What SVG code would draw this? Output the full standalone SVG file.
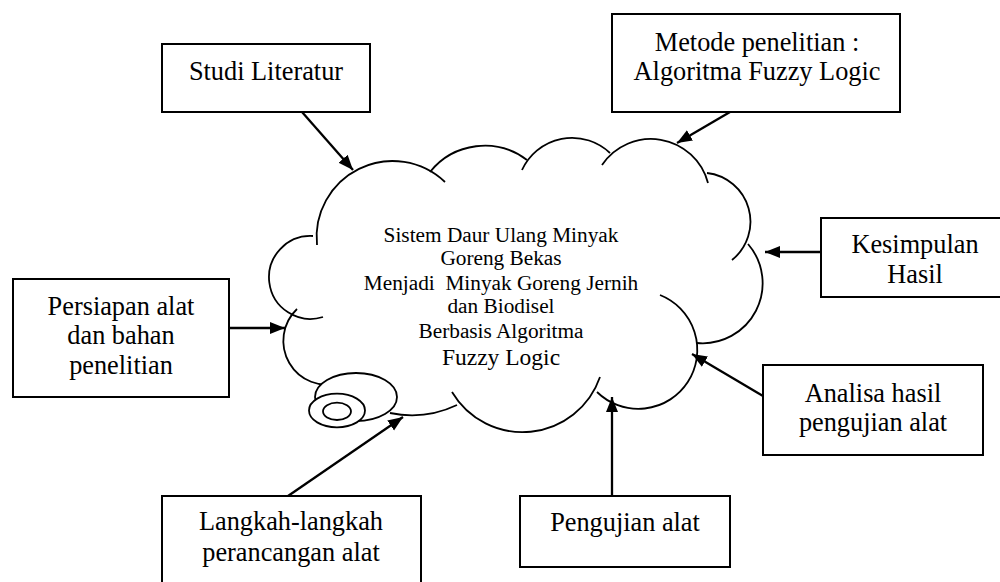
<svg xmlns="http://www.w3.org/2000/svg" width="1000" height="582" viewBox="0 0 1000 582">
<defs>
<style>
.box{fill:#fff;stroke:#000;stroke-width:2}
.t{font-family:"Liberation Serif","Times New Roman",serif;font-size:26.3px;fill:#000;text-anchor:middle}
.c{font-family:"Liberation Serif","Times New Roman",serif;font-size:21.3px;fill:#000;text-anchor:middle;white-space:pre}
.cl{fill:none;stroke:#000;stroke-width:1.8}
.el{fill:#fff;stroke:#000;stroke-width:1.8}
.ar{fill:none;stroke:#000;stroke-width:2.3}
</style>
<marker id="ah" markerUnits="userSpaceOnUse" markerWidth="16" markerHeight="14" refX="15" refY="6" orient="auto">
<path d="M0,0 L15,6 L0,12 Z" fill="#000"/>
</marker>
</defs>
<rect width="1000" height="582" fill="#fff"/>

<g id="cloud">
<path class="cl" d="M317,245 A76,76 0 0 1 445,182"/>
<path class="cl" d="M430,172 A70,70 0 0 1 527,160"/>
<path class="cl" d="M522,170 A55,55 0 0 1 610,153"/>
<path class="cl" d="M602,165 A59,59 0 0 1 708,183"/>
<path class="cl" d="M707,173 A49,49 0 0 1 732,260"/>
<path class="cl" d="M748,244 A60,60 0 0 1 697,343"/>
<path class="cl" d="M660,295 A59,59 0 1 1 597,392"/>
<path class="cl" d="M600,377 A82,82 0 0 1 452,392"/>
<path class="cl" d="M457,405 A106,106 0 0 1 390,413"/>
<path class="cl" d="M340,383 A44,44 0 0 1 297,309"/>
<path class="cl" d="M323,317 A41.5,41.5 0 1 1 313,236"/>
<ellipse class="el" cx="356" cy="397" rx="41" ry="24"/>
<ellipse class="el" cx="337" cy="410.5" rx="28" ry="16.8"/>
<ellipse class="el" cx="337" cy="411.3" rx="14" ry="8.7"/>
<text class="c" x="501" y="242">Sistem Daur Ulang Minyak</text>
<text class="c" x="501" y="265">Goreng Bekas</text>
<text class="c" x="501" y="290" xml:space="preserve">Menjadi  Minyak Goreng Jernih</text>
<text class="c" x="501" y="313">dan Biodisel</text>
<text class="c" x="501" y="338">Berbasis Algoritma</text>
<text class="c" x="501" y="365" style="font-size:23.5px">Fuzzy Logic</text>
</g>

<g id="studi">
<rect class="box" x="162" y="44" width="208" height="68"/>
<text class="t" x="266" y="80">Studi Literatur</text>
</g>

<g id="metode">
<rect class="box" x="612" y="14" width="288" height="98"/>
<text class="t" x="757" y="51">Metode penelitian :</text>
<text class="t" x="757" y="80">Algoritma Fuzzy Logic</text>
</g>

<g id="persiapan">
<rect class="box" x="13" y="279" width="216" height="118"/>
<text class="t" x="121" y="315">Persiapan alat</text>
<text class="t" x="121" y="344">dan bahan</text>
<text class="t" x="121" y="374">penelitian</text>
</g>

<g id="kesimpulan">
<rect class="box" x="821" y="218" width="189" height="79"/>
<text class="t" x="915" y="253">Kesimpulan</text>
<text class="t" x="915" y="283">Hasil</text>
</g>

<g id="analisa">
<rect class="box" x="763" y="365" width="220" height="90"/>
<text class="t" x="873" y="402">Analisa hasil</text>
<text class="t" x="873" y="431">pengujian alat</text>
</g>

<g id="langkah">
<rect class="box" x="162" y="496" width="259" height="100"/>
<text class="t" x="291" y="530">Langkah-langkah</text>
<text class="t" x="291" y="561">perancangan alat</text>
</g>

<g id="pengujian">
<rect class="box" x="520" y="496" width="210" height="71"/>
<text class="t" x="625" y="531">Pengujian alat</text>
</g>

<g id="connectors">
<line class="ar" x1="302" y1="112" x2="353" y2="170" marker-end="url(#ah)"/>
<line class="ar" x1="730" y1="112" x2="677" y2="143" marker-end="url(#ah)"/>
<line class="ar" x1="229" y1="328" x2="285" y2="328" marker-end="url(#ah)"/>
<line class="ar" x1="821" y1="252" x2="765" y2="252" marker-end="url(#ah)"/>
<line class="ar" x1="763" y1="396" x2="692" y2="354" marker-end="url(#ah)"/>
<line class="ar" x1="612" y1="496" x2="612" y2="397" marker-end="url(#ah)"/>
<line class="ar" x1="288" y1="496" x2="403" y2="417" marker-end="url(#ah)"/>
</g>
</svg>
